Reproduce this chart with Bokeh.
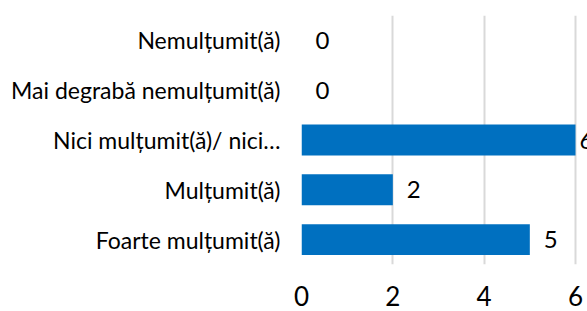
from bokeh.plotting import figure
from bokeh.models import ColumnDataSource, Range1d, FixedTicker
from bokeh.core.properties import value
from bokeh.embed import file_html
from bokeh.resources import INLINE

categories = ["Foarte mulțumit(ă)", "Mulțumit(ă)", "Nici mulțumit(ă)/ nici…",
              "Mai degrabă nemulțumit(ă)", "Nemulțumit(ă)"]
counts = [5, 2, 6, 0, 0]
x_ticks = [0, 2, 4, 6]

FONT = "Lato"
BLUE = "#0070C0"

label_offsets = [4 if c == max(counts) else 14 for c in counts]
src = ColumnDataSource(dict(cat=categories, val=counts,
                            lab=[str(c) for c in counts], off=label_offsets))

p = figure(width=587, height=311, y_range=categories,
           x_range=Range1d(0, 6.263), output_backend="svg",
           toolbar_location=None, min_border_left=301, min_border_right=0,
           min_border_top=15, min_border_bottom=47)

p.hbar(y="cat", right="val", left=0, height=0.62, source=src,
       fill_color=BLUE, line_color=None)
p.text(x="val", y="cat", text="lab", source=src, x_offset="off",
       text_align="left", text_baseline="middle", text_font=value(FONT),
       text_font_size="24px", text_color="#000000")

p.outline_line_color = None
p.background_fill_color = "white"
p.border_fill_color = "white"

p.xaxis.ticker = FixedTicker(ticks=x_ticks)
p.xaxis.axis_line_color = None
p.xaxis.major_tick_line_color = None
p.xaxis.minor_tick_line_color = None
p.xaxis.major_label_text_font = FONT
p.xaxis.major_label_text_font_size = "26px"
p.xaxis.major_label_text_color = "#000000"
p.xaxis.major_label_standoff = 15

p.yaxis.axis_line_color = None
p.yaxis.major_tick_line_color = None
p.yaxis.major_label_text_font = FONT
p.yaxis.major_label_text_font_size = "23px"
p.yaxis.major_label_text_color = "#000000"
p.yaxis.major_label_standoff = 15

p.ygrid.grid_line_color = None
p.xgrid.grid_line_color = "#D9D9D9"
p.xgrid.grid_line_width = 2
p.xgrid.ticker = FixedTicker(ticks=x_ticks)

open("out.html", "w").write(file_html(p, INLINE))
